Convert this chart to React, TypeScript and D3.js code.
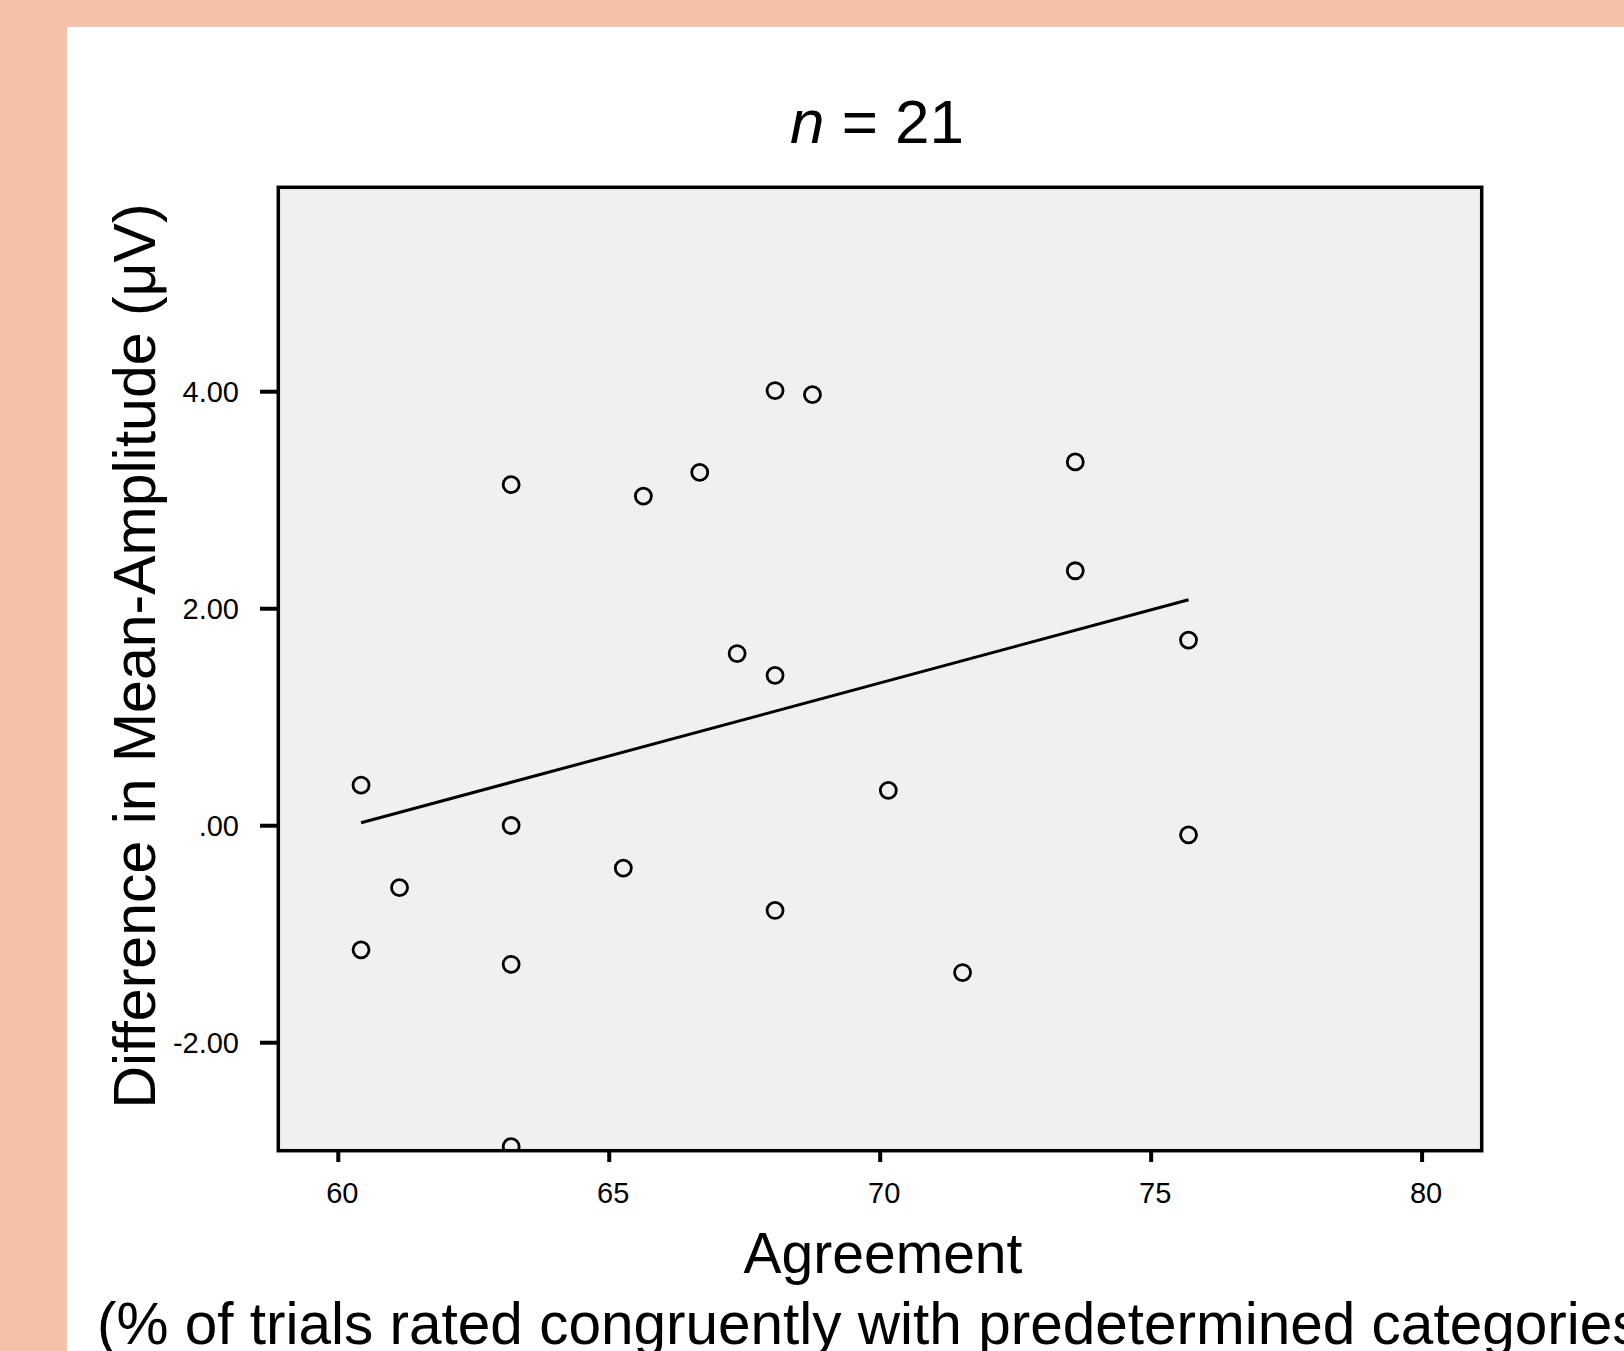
import React from "react";
import * as d3 from "d3";

// ---- data ----
const agreement: number[] = [
  60.42, 60.42, 61.13, 63.19, 63.19, 63.19, 63.19, 65.26, 65.63, 66.67, 67.36,
  68.06, 68.06, 68.06, 68.75, 70.15, 71.52, 73.6, 73.6, 75.69, 75.69,
];
const amplitudeDiff: number[] = [
  0.374, -1.144, -0.571, 3.143, 0.002, -1.277, -2.957, -0.39, 3.038, 3.257, 1.587,
  4.011, 1.386, -0.781, 3.973, 0.326, -1.353, 3.353, 2.35, 1.711, -0.084,
];
const xTicks: number[] = [60, 65, 70, 75, 80];
const yTicks: number[] = [4, 2, 0, -2];
const yTickLabels: string[] = ["4.00", "2.00", ".00", "-2.00"];
const xDomain: [number, number] = [58.893, 81.1];
const yDomain: [number, number] = [-2.995, 5.884];

const W = 1624;
const H = 1351;
const plot = { left: 278.3, right: 1481.7, top: 187.3, bottom: 1150.7 };
const FONT = "'Liberation Sans', Arial, Helvetica, sans-serif";

export default function App() {
  const x = d3.scaleLinear().domain(xDomain).range([plot.left, plot.right]);
  const y = d3.scaleLinear().domain(yDomain).range([plot.bottom, plot.top]);

  const pts = agreement.map((a, i) => ({ a, d: amplitudeDiff[i] }));
  const mx = d3.mean(agreement) as number;
  const my = d3.mean(amplitudeDiff) as number;
  const sxy = d3.sum(pts, (p) => (p.a - mx) * (p.d - my));
  const sxx = d3.sum(pts, (p) => (p.a - mx) * (p.a - mx));
  const slope = sxy / sxx;
  const intercept = my - slope * mx;
  const [xmin, xmax] = d3.extent(agreement) as [number, number];
  const fitLine = d3
    .line<number>()
    .x((v) => x(v))
    .y((v) => y(intercept + slope * v));

  const cx = (plot.left + plot.right) / 2;

  return (
    <svg
      width={W}
      height={H}
      viewBox={`0 0 ${W} ${H}`}
      style={{ position: "absolute", left: 0, top: 0, display: "block" }}
      fontFamily={FONT}
    >
      <defs>
        <clipPath id="plotclip">
          <rect x={plot.left} y={plot.top} width={plot.right - plot.left} height={plot.bottom - plot.top} />
        </clipPath>
      </defs>
      <rect x={0} y={0} width={W} height={H} fill="#F6C1A9" />
      <rect x={67} y={27} width={W - 67} height={H - 27} fill="#FFFFFF" />

      {/* title */}
      <text x={877} y={143} fontSize={62} textAnchor="middle" fill="#000">
        <tspan fontStyle="italic">n</tspan>
        <tspan> = 21</tspan>
      </text>

      {/* plot background */}
      <rect
        x={plot.left}
        y={plot.top}
        width={plot.right - plot.left}
        height={plot.bottom - plot.top}
        fill="#F0F0F0"
      />

      {/* fit line */}
      <path
        d={fitLine([xmin, xmax]) || ""}
        fill="none"
        stroke="#000"
        strokeWidth={3}
      />

      {/* points */}
      <g clipPath="url(#plotclip)">
        {pts.map((p, i) => (
          <circle
            key={i}
            cx={x(p.a)}
            cy={y(p.d)}
            r={8}
            fill="none"
            stroke="#000"
            strokeWidth={2.8}
          />
        ))}
      </g>

      {/* frame */}
      <rect
        x={plot.left}
        y={plot.top}
        width={plot.right - plot.left}
        height={plot.bottom - plot.top}
        fill="none"
        stroke="#000"
        strokeWidth={3.5}
      />

      {/* y ticks */}
      {yTicks.map((t, i) => (
        <g key={"y" + t}>
          <line x1={260} x2={plot.left} y1={y(t)} y2={y(t)} stroke="#000" strokeWidth={4} />
          <text x={239} y={y(t) + 10} fontSize={29} textAnchor="end" fill="#000">
            {yTickLabels[i]}
          </text>
        </g>
      ))}

      {/* x ticks */}
      {xTicks.map((t) => (
        <g key={"x" + t}>
          <line x1={x(t)} x2={x(t)} y1={plot.bottom} y2={1162} stroke="#000" strokeWidth={4} />
          <text x={x(t) + 4} y={1203} fontSize={29} textAnchor="middle" fill="#000">
            {t}
          </text>
        </g>
      ))}

      {/* axis titles */}
      <text
        transform={`translate(155, 656) rotate(-90)`}
        fontSize={59}
        textAnchor="middle"
        fill="#000"
      >
        Difference in Mean-Amplitude (μV)
      </text>
      <text x={cx + 3} y={1273} fontSize={57} textAnchor="middle" fill="#000">
        Agreement
      </text>
      <text x={97} y={1344} fontSize={58.5} textAnchor="start" fill="#000">
        (% of trials rated congruently with predetermined categories)
      </text>
    </svg>
  );
}
